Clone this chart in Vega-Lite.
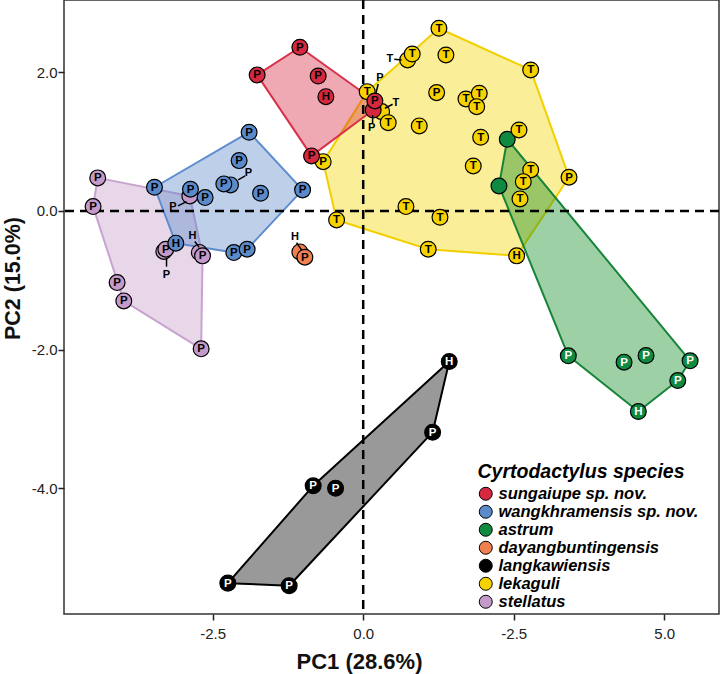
{
  "$schema": "https://vega.github.io/schema/vega-lite/v6.json",
  "width": 655,
  "height": 614,
  "autosize": {"type": "none"},
  "padding": {"left": 64, "top": 0, "right": 1, "bottom": 60},
  "background": "white",
  "config": {
    "view": {"stroke": "#333333", "strokeWidth": 1.5},
    "axis": {
      "domain": false,
      "grid": false,
      "tickColor": "#222222",
      "tickWidth": 1.5,
      "tickSize": 6,
      "labelFont": "Liberation Sans",
      "labelFontSize": 15,
      "labelColor": "#222222",
      "titleFont": "Liberation Sans",
      "titleFontSize": 22,
      "titleFontWeight": "bold",
      "titleColor": "#111111"
    }
  },
  "datasets": {
    "hull": [
      {"sp": "stellatus", "i": 1, "x": -4.41, "y": 0.476},
      {"sp": "stellatus", "i": 2, "x": -2.88, "y": 0.216},
      {"sp": "stellatus", "i": 3, "x": -2.669, "y": -0.648},
      {"sp": "stellatus", "i": 4, "x": -2.692, "y": -1.988},
      {"sp": "stellatus", "i": 5, "x": -3.977, "y": -1.297},
      {"sp": "stellatus", "i": 6, "x": -4.487, "y": 0.062},
      {"sp": "wangkhramensis sp. nov.", "i": 1, "x": -3.467, "y": 0.341},
      {"sp": "wangkhramensis sp. nov.", "i": 2, "x": -1.895, "y": 1.134},
      {"sp": "wangkhramensis sp. nov.", "i": 3, "x": -1.007, "y": 0.303},
      {"sp": "wangkhramensis sp. nov.", "i": 4, "x": -1.928, "y": -0.552},
      {"sp": "wangkhramensis sp. nov.", "i": 5, "x": -2.149, "y": -0.601},
      {"sp": "wangkhramensis sp. nov.", "i": 6, "x": -3.113, "y": -0.465},
      {"sp": "lekaguli", "i": 1, "x": -0.665, "y": 0.71},
      {"sp": "lekaguli", "i": 2, "x": 0.066, "y": 1.719},
      {"sp": "lekaguli", "i": 3, "x": 1.258, "y": 2.633},
      {"sp": "lekaguli", "i": 4, "x": 2.782, "y": 2.032},
      {"sp": "lekaguli", "i": 5, "x": 3.419, "y": 0.486},
      {"sp": "lekaguli", "i": 6, "x": 2.549, "y": -0.648},
      {"sp": "lekaguli", "i": 7, "x": 1.08, "y": -0.552},
      {"sp": "lekaguli", "i": 8, "x": -0.442, "y": -0.13},
      {"sp": "sungaiupe sp. nov.", "i": 1, "x": -1.762, "y": 1.96},
      {"sp": "sungaiupe sp. nov.", "i": 2, "x": -1.052, "y": 2.359},
      {"sp": "sungaiupe sp. nov.", "i": 3, "x": 0.194, "y": 1.585},
      {"sp": "sungaiupe sp. nov.", "i": 4, "x": 0.166, "y": 1.455},
      {"sp": "sungaiupe sp. nov.", "i": 5, "x": -0.858, "y": 0.793},
      {"sp": "astrum", "i": 1, "x": 2.393, "y": 1.033},
      {"sp": "astrum", "i": 2, "x": 5.43, "y": -2.161},
      {"sp": "astrum", "i": 3, "x": 5.225, "y": -2.445},
      {"sp": "astrum", "i": 4, "x": 4.57, "y": -2.892},
      {"sp": "astrum", "i": 5, "x": 3.407, "y": -2.089},
      {"sp": "astrum", "i": 6, "x": 2.255, "y": 0.36},
      {"sp": "langkawiensis", "i": 1, "x": 1.429, "y": -2.171},
      {"sp": "langkawiensis", "i": 2, "x": 1.153, "y": -3.189},
      {"sp": "langkawiensis", "i": 3, "x": -1.23, "y": -5.403},
      {"sp": "langkawiensis", "i": 4, "x": -2.249, "y": -5.365},
      {"sp": "langkawiensis", "i": 5, "x": -0.831, "y": -3.963}
    ],
    "pts": [
      {"sp": "stellatus", "x": -4.41, "y": 0.476, "l": "P"},
      {"sp": "stellatus", "x": -4.487, "y": 0.062, "l": "P"},
      {"sp": "stellatus", "x": -4.088, "y": -1.033, "l": "P"},
      {"sp": "stellatus", "x": -3.977, "y": -1.297, "l": "P"},
      {"sp": "stellatus", "x": -2.692, "y": -1.988, "l": "P"},
      {"sp": "stellatus", "x": -2.722, "y": -0.598, "l": ""},
      {"sp": "stellatus", "x": -2.669, "y": -0.648, "l": "P"},
      {"sp": "stellatus", "x": -3.312, "y": -0.584, "l": ""},
      {"sp": "stellatus", "x": -3.279, "y": -0.552, "l": "P"},
      {"sp": "stellatus", "x": -2.88, "y": 0.216, "l": ""},
      {"sp": "wangkhramensis sp. nov.", "x": -1.895, "y": 1.134, "l": "P"},
      {"sp": "wangkhramensis sp. nov.", "x": -2.061, "y": 0.725, "l": "P"},
      {"sp": "wangkhramensis sp. nov.", "x": -2.204, "y": 0.375, "l": ""},
      {"sp": "wangkhramensis sp. nov.", "x": -2.315, "y": 0.389, "l": "P"},
      {"sp": "wangkhramensis sp. nov.", "x": -1.705, "y": 0.255, "l": "P"},
      {"sp": "wangkhramensis sp. nov.", "x": -1.007, "y": 0.303, "l": "P"},
      {"sp": "wangkhramensis sp. nov.", "x": -3.467, "y": 0.341, "l": "P"},
      {"sp": "wangkhramensis sp. nov.", "x": -2.869, "y": 0.313, "l": "P"},
      {"sp": "wangkhramensis sp. nov.", "x": -2.626, "y": 0.192, "l": "P"},
      {"sp": "wangkhramensis sp. nov.", "x": -3.113, "y": -0.465, "l": "H"},
      {"sp": "wangkhramensis sp. nov.", "x": -2.149, "y": -0.601, "l": "P"},
      {"sp": "wangkhramensis sp. nov.", "x": -1.928, "y": -0.552, "l": "P"},
      {"sp": "astrum", "x": 2.393, "y": 1.033, "l": ""},
      {"sp": "astrum", "x": 2.255, "y": 0.36, "l": ""},
      {"sp": "astrum", "x": 3.407, "y": -2.089, "l": "P"},
      {"sp": "astrum", "x": 4.333, "y": -2.18, "l": "P"},
      {"sp": "astrum", "x": 4.698, "y": -2.085, "l": "P"},
      {"sp": "astrum", "x": 5.43, "y": -2.161, "l": "P"},
      {"sp": "astrum", "x": 5.225, "y": -2.445, "l": "P"},
      {"sp": "astrum", "x": 4.57, "y": -2.892, "l": "H"},
      {"sp": "langkawiensis", "x": 1.429, "y": -2.171, "l": "H"},
      {"sp": "langkawiensis", "x": 1.153, "y": -3.189, "l": "P"},
      {"sp": "langkawiensis", "x": -0.831, "y": -3.963, "l": "P"},
      {"sp": "langkawiensis", "x": -0.459, "y": -3.996, "l": "P"},
      {"sp": "langkawiensis", "x": -2.249, "y": -5.365, "l": "P"},
      {"sp": "langkawiensis", "x": -1.23, "y": -5.403, "l": "P"},
      {"sp": "dayangbuntingensis", "x": -1.052, "y": -0.591, "l": ""},
      {"sp": "dayangbuntingensis", "x": -0.969, "y": -0.667, "l": "P"},
      {"sp": "lekaguli", "x": 0.738, "y": 2.176, "l": ""},
      {"sp": "lekaguli", "x": 0.306, "y": 1.431, "l": ""},
      {"sp": "lekaguli", "x": 1.258, "y": 2.633, "l": "T"},
      {"sp": "lekaguli", "x": 0.814, "y": 2.262, "l": "T"},
      {"sp": "lekaguli", "x": 1.374, "y": 2.248, "l": "T"},
      {"sp": "lekaguli", "x": 2.782, "y": 2.032, "l": "T"},
      {"sp": "lekaguli", "x": 0.066, "y": 1.719, "l": "T"},
      {"sp": "lekaguli", "x": 1.22, "y": 1.705, "l": "P"},
      {"sp": "lekaguli", "x": 1.707, "y": 1.614, "l": "T"},
      {"sp": "lekaguli", "x": 1.928, "y": 1.696, "l": "T"},
      {"sp": "lekaguli", "x": 1.885, "y": 1.503, "l": "T"},
      {"sp": "lekaguli", "x": 0.415, "y": 1.272, "l": "T"},
      {"sp": "lekaguli", "x": 0.931, "y": 1.225, "l": "T"},
      {"sp": "lekaguli", "x": 1.951, "y": 1.062, "l": "T"},
      {"sp": "lekaguli", "x": 2.588, "y": 1.167, "l": "T"},
      {"sp": "lekaguli", "x": 1.828, "y": 0.648, "l": "T"},
      {"sp": "lekaguli", "x": 2.782, "y": 0.591, "l": "T"},
      {"sp": "lekaguli", "x": 2.659, "y": 0.422, "l": "T"},
      {"sp": "lekaguli", "x": 2.604, "y": 0.173, "l": "T"},
      {"sp": "lekaguli", "x": 3.419, "y": 0.486, "l": "P"},
      {"sp": "lekaguli", "x": 0.71, "y": 0.062, "l": "T"},
      {"sp": "lekaguli", "x": 1.275, "y": -0.091, "l": "T"},
      {"sp": "lekaguli", "x": 1.08, "y": -0.552, "l": "T"},
      {"sp": "lekaguli", "x": 2.549, "y": -0.648, "l": "H"},
      {"sp": "lekaguli", "x": -0.665, "y": 0.71, "l": "P"},
      {"sp": "lekaguli", "x": -0.442, "y": -0.13, "l": "T"},
      {"sp": "sungaiupe sp. nov.", "x": -1.052, "y": 2.359, "l": "P"},
      {"sp": "sungaiupe sp. nov.", "x": -1.762, "y": 1.96, "l": "P"},
      {"sp": "sungaiupe sp. nov.", "x": -0.748, "y": 1.945, "l": "P"},
      {"sp": "sungaiupe sp. nov.", "x": -0.62, "y": 1.647, "l": "H"},
      {"sp": "sungaiupe sp. nov.", "x": -0.858, "y": 0.793, "l": "P"},
      {"sp": "sungaiupe sp. nov.", "x": 0.166, "y": 1.455, "l": ""},
      {"sp": "sungaiupe sp. nov.", "x": 0.194, "y": 1.585, "l": "P"}
    ],
    "ann": [
      {"t": "P", "tx": -3.162, "ty": 0.058, "x1": -3.075, "y1": 0.072, "x2": -2.935, "y2": 0.134},
      {"t": "P", "tx": -3.267, "ty": -0.922, "x1": -3.267, "y1": -0.682, "x2": -3.267, "y2": -0.803},
      {"t": "H", "tx": -2.835, "ty": -0.36, "x1": -2.797, "y1": -0.442, "x2": -2.726, "y2": -0.523},
      {"t": "P", "tx": -1.905, "ty": 0.543, "x1": -2.077, "y1": 0.447, "x2": -1.961, "y2": 0.504},
      {"t": "H", "tx": -1.135, "ty": -0.37, "x1": -1.107, "y1": -0.457, "x2": -1.024, "y2": -0.562},
      {"t": "P", "tx": 0.278, "ty": 1.912, "x1": 0.249, "y1": 1.83, "x2": 0.211, "y2": 1.696},
      {"t": "T", "tx": 0.543, "ty": 1.561, "x1": 0.489, "y1": 1.537, "x2": 0.361, "y2": 1.48},
      {"t": "P", "tx": 0.14, "ty": 1.192, "x1": 0.156, "y1": 1.383, "x2": 0.156, "y2": 1.264},
      {"t": "T", "tx": 0.444, "ty": 2.186, "x1": 0.515, "y1": 2.186, "x2": 0.638, "y2": 2.176}
    ]
  },
  "layer": [
    {
      "data": {"name": "hull"},
      "mark": {"type": "line", "interpolate": "linear-closed", "strokeWidth": 2, "fillOpacity": 0.4, "strokeJoin": "round"},
      "encoding": {
        "x": {
          "field": "x", "type": "quantitative",
          "scale": {"domain": [-4.97, 5.91], "nice": false, "zero": false},
          "title": "PC1 (28.6%)",
          "axis": {
            "values": [-2.5, 0, 2.5, 5],
            "labelExpr": "datum.value == 2.5 ? '-2.5' : (datum.value == -2.5 ? '-2.5' : (datum.value == 0 ? '0.0' : '5.0'))",
            "labelPadding": 6,
            "titleX": 295,
            "titleY": 54,
            "titleAlign": "center",
            "titleBaseline": "alphabetic"
          }
        },
        "y": {
          "field": "y", "type": "quantitative",
          "scale": {"domain": [-5.81, 3.04], "nice": false, "zero": false},
          "title": "PC2 (15.0%)",
          "axis": {
            "values": [-4, -2, 0, 2],
            "labelExpr": "datum.value == 2 ? '2.0' : (datum.value == 0 ? '0.0' : (datum.value == -2 ? '-2.0' : '-4.0'))",
            "labelPadding": 1,
            "titleX": -45,
            "titleY": 278,
            "titleFontSize": 21.5,
            "titleAlign": "center",
            "titleBaseline": "alphabetic"
          }
        },
        "order": {"field": "i", "type": "quantitative"},
        "fill": {
          "field": "sp", "type": "nominal", "legend": null,
          "scale": {
            "domain": ["sungaiupe sp. nov.", "wangkhramensis sp. nov.", "astrum", "langkawiensis", "lekaguli", "stellatus"],
            "range": ["#d7283f", "#5b87c8", "#0a8a1e", "#000000", "#f5d400", "#c39ac9"]
          }
        },
        "stroke": {
          "field": "sp", "type": "nominal", "legend": null,
          "scale": {
            "domain": ["sungaiupe sp. nov.", "wangkhramensis sp. nov.", "astrum", "langkawiensis", "lekaguli", "stellatus"],
            "range": ["#d8324a", "#5d8cd0", "#17843a", "#000000", "#f2d000", "#c9a3d0"]
          }
        }
      }
    },
    {
      "data": {"values": [{}]},
      "mark": {"type": "rule", "strokeDash": [9, 6], "strokeWidth": 2.5, "color": "#000000"},
      "encoding": {"x": {"datum": 0, "type": "quantitative"}}
    },
    {
      "data": {"values": [{}]},
      "mark": {"type": "rule", "strokeDash": [9, 6], "strokeWidth": 2.5, "color": "#000000"},
      "encoding": {"y": {"datum": 0, "type": "quantitative"}}
    },
    {
      "data": {"name": "pts"},
      "mark": {"type": "point", "shape": "circle", "filled": true, "size": 250, "stroke": "#000000", "strokeWidth": 1.2, "opacity": 1},
      "encoding": {
        "x": {"field": "x", "type": "quantitative", "title": "PC1 (28.6%)"},
        "y": {"field": "y", "type": "quantitative", "title": "PC2 (15.0%)"},
        "color": {
          "field": "sp", "type": "nominal",
          "scale": {
            "domain": ["sungaiupe sp. nov.", "wangkhramensis sp. nov.", "astrum", "dayangbuntingensis", "langkawiensis", "lekaguli", "stellatus"],
            "range": ["#d6283f", "#5b8acb", "#0f8a40", "#f08050", "#000000", "#f6d200", "#c39ac9"]
          },
          "legend": {
            "orient": "none",
            "legendX": 413.5,
            "legendY": 463,
            "padding": 0,
            "title": "Cyrtodactylus species",
            "titleFont": "Liberation Sans",
            "titleFontSize": 19.5,
            "titleFontWeight": "bold",
            "titleFontStyle": "italic",
            "titleColor": "#000000",
            "titlePadding": 3,
            "titleLimit": 400,
            "labelLimit": 400,
            "labelFont": "Liberation Sans",
            "labelFontSize": 16.5,
            "labelFontWeight": "bold",
            "labelFontStyle": "italic",
            "labelColor": "#000000",
            "labelOffset": 4.5,
            "symbolType": "circle",
            "symbolSize": 169,
            "symbolStrokeColor": "#000000",
            "symbolStrokeWidth": 1,
            "symbolOpacity": 1,
            "rowPadding": 0
          }
        }
      }
    },
    {
      "data": {"name": "pts"},
      "mark": {"type": "text", "font": "Liberation Sans", "fontSize": 11.5, "fontWeight": "bold", "align": "center", "baseline": "middle", "dy": 0.5},
      "encoding": {
        "x": {"field": "x", "type": "quantitative", "title": "PC1 (28.6%)"},
        "y": {"field": "y", "type": "quantitative", "title": "PC2 (15.0%)"},
        "text": {"field": "l"},
        "color": {
          "condition": {"test": "datum.sp == 'astrum' || datum.sp == 'langkawiensis'", "value": "#ffffff"},
          "value": "#000000"
        }
      }
    },
    {
      "data": {"name": "ann"},
      "mark": {"type": "rule", "strokeWidth": 1.5, "color": "#000000"},
      "encoding": {
        "x": {"field": "x1", "type": "quantitative", "title": "PC1 (28.6%)"},
        "y": {"field": "y1", "type": "quantitative", "title": "PC2 (15.0%)"},
        "x2": {"field": "x2"},
        "y2": {"field": "y2"}
      }
    },
    {
      "data": {"name": "ann"},
      "mark": {"type": "text", "font": "Liberation Sans", "fontSize": 11, "fontWeight": "bold", "align": "center", "baseline": "middle", "color": "#000000"},
      "encoding": {
        "x": {"field": "tx", "type": "quantitative", "title": "PC1 (28.6%)"},
        "y": {"field": "ty", "type": "quantitative", "title": "PC2 (15.0%)"},
        "text": {"field": "t"}
      }
    }
  ]
}
